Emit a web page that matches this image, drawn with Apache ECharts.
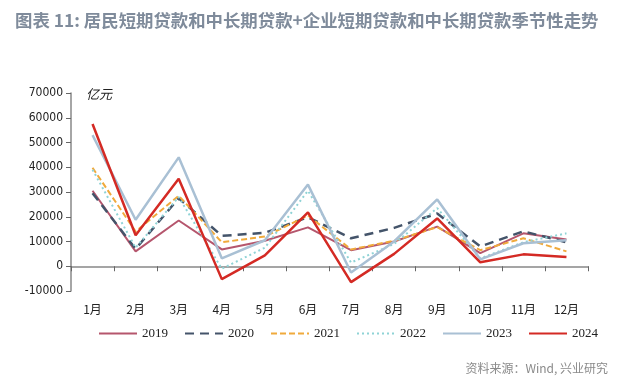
<!DOCTYPE html>
<html><head><meta charset="utf-8">
<script src="https://cdn.jsdelivr.net/npm/echarts@6/dist/echarts.min.js"></script>
<style>html,body{margin:0;padding:0;background:#fff}#c{width:620px;height:383px}</style>
</head><body><div id="c"></div>
<script>
const months = ['1月','2月','3月','4月','5月','6月','7月','8月','9月','10月','11月','12月'];
const yTicks = [-10000, 0, 10000, 20000, 30000, 40000, 50000, 60000, 70000];
const s2019 = [30500, 6000, 18500, 6800, 10300, 15700, 6500, 10000, 16000, 5300, 13300, 10800];
const s2020 = [29500, 7000, 27500, 12300, 13500, 19800, 11300, 15500, 21300, 8000, 14100, 9700];
const s2021 = [39800, 14000, 28500, 9700, 12000, 20500, 6800, 10300, 15800, 6500, 11300, 6000];
const s2022 = [39000, 7500, 28000, -1000, 7500, 30500, 1500, 9000, 23500, 3200, 9700, 13300];
const s2023 = [53000, 18800, 44000, 3200, 10500, 33000, -2500, 10000, 27000, 2800, 9300, 10500];
const s2024 = [57500, 12500, 35400, -5200, 4400, 21800, -6400, 5000, 19300, 1600, 4800, 3700];

const chart = echarts.init(document.getElementById('c'), null, {renderer:'canvas'});
const mk = (name, data, color, type, width, z) => ({
  name, type:'line', data, symbol:'none', z,
  lineStyle:{color, width, type},
  itemStyle:{color}
});
chart.setOption({
  animation:false,
  title:{text:'图表 11: 居民短期贷款和中长期贷款+企业短期贷款和中长期贷款季节性走势',
    left:10, top:7, textStyle:{fontSize:17.4, fontWeight:'bold', color:'#7f8b9b', fontFamily:'Noto Sans CJK SC'}},
  graphic:[
    {type:'text', left:86, top:88, style:{text:'亿元', fontSize:13, fill:'#222', fontFamily:'Noto Sans CJK SC', fontStyle:'italic'}},
    {type:'text', right:12, top:362, style:{text:'资料来源：Wind, 兴业研究', fontSize:12, fill:'#8a8a8a', fontFamily:'Noto Sans CJK SC'}}
  ],
  legend:{top:322, left:93, itemWidth:38, itemHeight:12, itemGap:16,
    itemStyle:{opacity:0},
    textStyle:{fontSize:13, color:'#222', fontFamily:'Liberation Serif'},
    data:['2019','2020','2021','2022','2023','2024']},
  grid:{left:71, right:32, top:93, bottom:92},
  xAxis:[
    {type:'category', data:months, boundaryGap:true,
      axisLine:{onZero:true, lineStyle:{color:'#888', width:1.5}},
      axisTick:{show:true, length:5, alignWithLabel:false, lineStyle:{color:'#666'}},
      axisLabel:{show:false}},
    {type:'category', data:months, boundaryGap:true, position:'bottom',
      axisLine:{show:false, onZero:false}, axisTick:{show:false},
      axisLabel:{show:true, margin:12, fontSize:12, color:'#222', fontFamily:'Noto Sans CJK SC'}}
  ],
  yAxis:{type:'value', min:yTicks[0], max:yTicks[yTicks.length-1], interval:10000,
    axisLine:{show:true, lineStyle:{color:'#888', width:1.5}},
    axisTick:{show:true, length:5, lineStyle:{color:'#666'}},
    splitLine:{show:false},
    axisLabel:{fontSize:12, color:'#222', margin:8, fontFamily:'DejaVu Sans Condensed',
      formatter:(v)=>String(v)}},
  series:[
    mk('2019', s2019, '#b5566d', 'solid', 2, 2),
    mk('2020', s2020, '#44546a', [9,6], 2.5, 3),
    mk('2021', s2021, '#f0aa3c', [6,3], 2, 4),
    mk('2022', s2022, '#8fd3d6', [2,3], 2, 5),
    mk('2023', s2023, '#a9c0d4', 'solid', 2.5, 6),
    mk('2024', s2024, '#d42a24', 'solid', 2.5, 7)
  ]
});
</script></body></html>
